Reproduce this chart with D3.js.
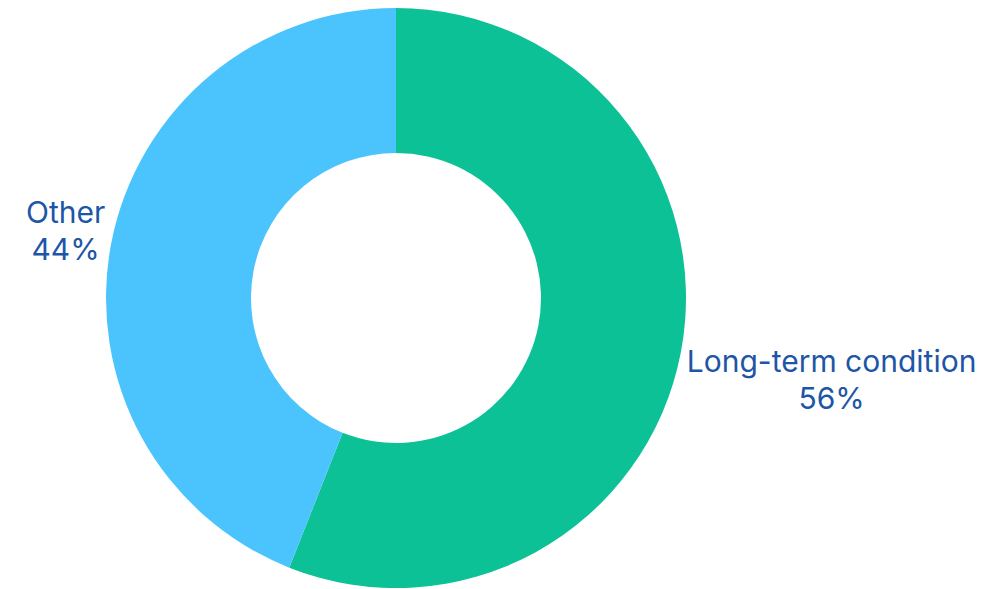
<!DOCTYPE html>
<html>
<head>
<meta charset="utf-8">
<script src="https://cdn.jsdelivr.net/npm/d3@7"></script>
<style>
  body { margin: 0; background: #fff; }
  svg { display: block; }
  .label { font-family: Inter, "Noto Sans", sans-serif; font-size: 30px; fill: #1d56a6; }
</style>
</head>
<body>
<svg id="chart" width="996" height="589"></svg>
<script>
"use strict"

const categories = ["Long-term condition", "Other"]
const values = [56, 44]
const colours = ["#0dc196", "#4bc4fe"]

const width = 996, height = 589
const cx = 396, cy = 298
const outerRadius = 290, innerRadius = 145

const svg = d3.select("#chart")
const g = svg.append("g").attr("transform", "translate(" + cx + "," + cy + ")")

const pie = d3.pie().sort(null).value(d => d.value)
const arc = d3.arc().innerRadius(innerRadius).outerRadius(outerRadius)
const labelArc = d3.arc().innerRadius(outerRadius + 6).outerRadius(outerRadius + 6)

const data = categories.map((c, i) => ({ name: c, value: values[i], colour: colours[i] }))
const arcs = pie(data)

g.selectAll("path.slice")
    .data(arcs)
    .enter()
    .append("path")
    .attr("class", "slice")
    .attr("d", arc)
    .style("fill", d => d.data.colour)

// labels sit just outside the ring, on the slice's middle angle
const labels = g.selectAll("g.lab")
    .data(arcs)
    .enter()
    .append("g")
    .attr("class", "lab")

labels.each(function(d) {
    const sel = d3.select(this)
    const t = sel.append("text").attr("class", "label").attr("text-anchor", "middle")
    t.append("tspan").attr("x", 0).attr("dy", "0").text(d.data.name)
    t.append("tspan").attr("x", 0).attr("dy", "1.25em").text(d.data.value + "%")
    const bb = this.getBBox()
    const [px, py] = labelArc.centroid(d)
    const mid = (d.startAngle + d.endAngle) / 2
    const right = Math.sin(mid) > 0
    const x = right ? px + bb.width / 2 : px - bb.width / 2
    const shift = right ? 26 : -12
    const y = py + shift - (bb.y + bb.height / 2)
    sel.attr("transform", "translate(" + x + "," + y + ")")
})
</script>
</body>
</html>
